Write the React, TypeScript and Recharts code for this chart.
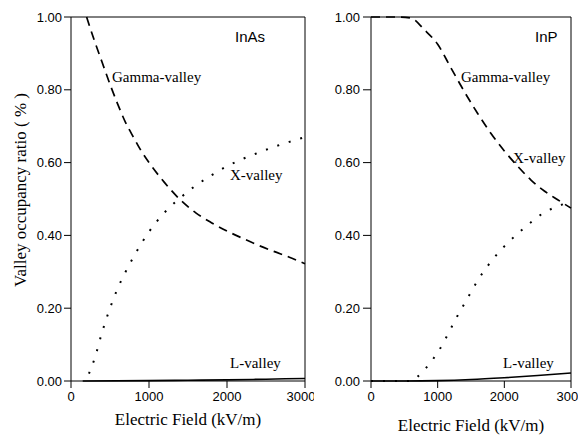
import { LineChart, Line, XAxis, YAxis, ReferenceLine } from 'recharts';

type Row = { e: number; g?: number; x?: number; l?: number };

const xTicks = [0, 1000, 2000, 3000];
const yTicks = [0, 0.2, 0.4, 0.6, 0.8, 1.0];
const xDomain = [0, 3000];
const yDomain = [0, 1];

// InAs  [field kV/m, ratio]
const inasGamma = [
  [200, 1.0], [300, 0.935], [400, 0.875], [500, 0.815], [600, 0.76], [700, 0.71], [800, 0.67],
  [900, 0.632], [1000, 0.6], [1200, 0.545], [1400, 0.498], [1600, 0.462], [1800, 0.435],
  [2000, 0.412], [2200, 0.392], [2400, 0.373], [2600, 0.356], [2800, 0.34], [3000, 0.322],
];
const inasX = [
  [230, 0.02], [300, 0.06], [400, 0.135], [500, 0.2], [600, 0.255], [700, 0.3], [800, 0.34],
  [1000, 0.41], [1200, 0.463], [1400, 0.503], [1600, 0.537], [1800, 0.565], [2000, 0.59],
  [2200, 0.61], [2400, 0.627], [2600, 0.643], [2800, 0.657], [3000, 0.67],
];
const inasL = [
  [150, 0], [1000, 0.001], [1500, 0.002], [2000, 0.003], [2500, 0.005], [3000, 0.007],
];

// InP
const inpGamma = [
  [0, 1.0], [400, 1.0], [600, 0.997], [800, 0.965], [1000, 0.925], [1200, 0.86], [1400, 0.795],
  [1600, 0.735], [1800, 0.68], [2000, 0.632], [2200, 0.59], [2400, 0.552], [2600, 0.522],
  [2800, 0.498], [3000, 0.475],
];
const inpX = [
  [0, 0], [600, 0], [700, 0.012], [800, 0.03], [900, 0.053], [1000, 0.078], [1100, 0.11],
  [1200, 0.145], [1300, 0.18], [1400, 0.212], [1500, 0.244], [1600, 0.276], [1800, 0.328],
  [2000, 0.37], [2200, 0.405], [2400, 0.436], [2600, 0.463], [2800, 0.48], [3000, 0.492],
];
const inpL = [
  [0, 0], [500, 0], [1000, 0.001], [1500, 0.004], [2000, 0.009], [2500, 0.015], [3000, 0.022],
];

// merge the three series of a panel into one table keyed by field
function table(g: number[][], x: number[][], l: number[][]): Row[] {
  const rows = new Map<number, Row>();
  const put = (src: number[][], key: 'g' | 'x' | 'l') =>
    src.forEach(([e, v]) => {
      const r = rows.get(e) ?? { e };
      r[key] = v;
      rows.set(e, r);
    });
  put(g, 'g');
  put(x, 'x');
  put(l, 'l');
  return [...rows.values()].sort((a, b) => a.e - b.e);
}

const inasData = table(inasGamma, inasX, inasL);
const inpData = table(inpGamma, inpX, inpL);

const sans = 'Liberation Sans, Arial, sans-serif';
const serif = 'Liberation Serif, Times New Roman, serif';
const tickStyle = { fill: '#000', fontSize: 13, fontFamily: sans };
const fmt2 = (v: number) => v.toFixed(2);
const leftMargin = { top: 17, right: 9, bottom: 0, left: 0 };
const rightMargin = { top: 17, right: 15, bottom: 0, left: 0 };

export default function App() {
  return (
    <div style={{ display: 'flex', width: 586, height: 435, margin: '-8px 0 0 -8px' }}>
      <LineChart width={314} height={435} data={inasData} margin={leftMargin}>
        <XAxis
          dataKey="e" type="number" domain={xDomain} ticks={xTicks}
          height={54} tickSize={7} tickMargin={4} tick={tickStyle} stroke="#000"
        />
        <YAxis
          type="number" domain={yDomain} ticks={yTicks} width={71}
          tickFormatter={fmt2} tickSize={7} tickMargin={2} tick={tickStyle} stroke="#000"
        />
        <ReferenceLine y={1} stroke="#000" />
        <ReferenceLine x={3000} stroke="#000" />
        <Line dataKey="g" type="monotone" connectNulls stroke="#000" strokeWidth={1.7}
          strokeDasharray="9 6" dot={false} isAnimationActive={false} />
        <Line dataKey="x" type="monotone" connectNulls stroke="#000" strokeWidth={2}
          strokeDasharray="2 10" dot={false} isAnimationActive={false} />
        <Line dataKey="l" type="monotone" connectNulls stroke="#000" strokeWidth={1.6}
          dot={false} isAnimationActive={false} />
        <text x={235} y={42} fontFamily={sans} fontSize={15}>InAs</text>
        <text x={112} y={82} fontFamily={serif} fontSize={15}>Gamma-valley</text>
        <text x={230} y={180} fontFamily={serif} fontSize={15}>X-valley</text>
        <text x={230} y={368} fontFamily={serif} fontSize={15}>L-valley</text>
        <text x={188} y={425} textAnchor="middle" fontFamily={serif} fontSize={17}>Electric Field (kV/m)</text>
        <text transform="rotate(-90)" x={-190} y={26} textAnchor="middle" fontFamily={serif} fontSize={17}>
          Valley occupancy ratio ( % )
        </text>
      </LineChart>
      <LineChart width={272} height={435} data={inpData} margin={rightMargin}>
        <XAxis
          dataKey="e" type="number" domain={xDomain} ticks={xTicks}
          height={54} tickSize={7} tickMargin={4} tick={tickStyle} stroke="#000"
        />
        <YAxis
          type="number" domain={yDomain} ticks={yTicks} width={57}
          tickFormatter={fmt2} tickSize={8} tickMargin={3} tick={tickStyle} stroke="#000"
        />
        <ReferenceLine y={1} stroke="#000" />
        <ReferenceLine x={3000} stroke="#000" />
        <Line dataKey="g" type="monotone" connectNulls stroke="#000" strokeWidth={1.7}
          strokeDasharray="9 6" dot={false} isAnimationActive={false} />
        <Line dataKey="x" type="monotone" connectNulls stroke="#000" strokeWidth={2}
          strokeDasharray="2 10" dot={false} isAnimationActive={false} />
        <Line dataKey="l" type="monotone" connectNulls stroke="#000" strokeWidth={1.6}
          dot={false} isAnimationActive={false} />
        <text x={221} y={42} fontFamily={sans} fontSize={15}>InP</text>
        <text x={147} y={82} fontFamily={serif} fontSize={15}>Gamma-valley</text>
        <text x={199} y={163} fontFamily={serif} fontSize={15}>X-valley</text>
        <text x={189} y={368} fontFamily={serif} fontSize={15}>L-valley</text>
        <text x={157} y={431} textAnchor="middle" fontFamily={serif} fontSize={17}>Electric Field (kV/m)</text>
      </LineChart>
    </div>
  );
}
